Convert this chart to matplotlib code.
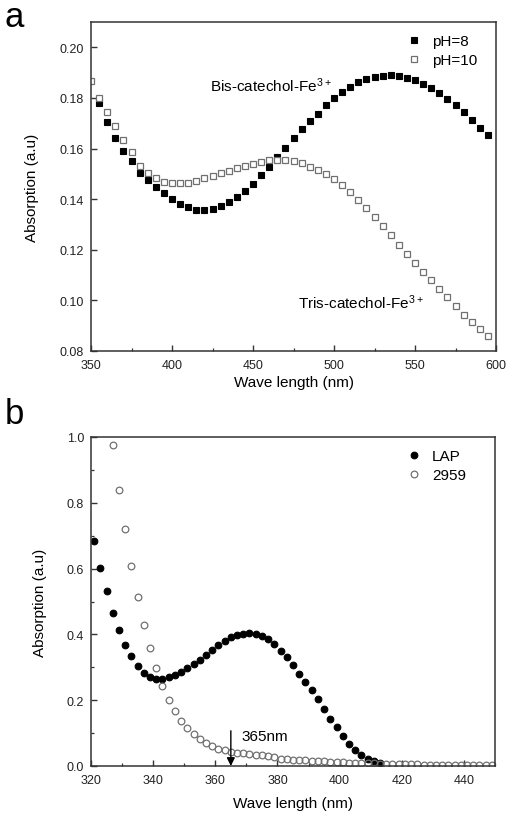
import matplotlib
matplotlib.use("Agg")
import matplotlib.pyplot as plt
from matplotlib.ticker import MultipleLocator

plt.rcParams['font.family'] = ['Liberation Sans', 'DejaVu Sans']
plt.rcParams['mathtext.fontset'] = 'custom'
plt.rcParams['mathtext.rm'] = 'Liberation Sans'
plt.rcParams['mathtext.default'] = 'regular'

# ---------- Panel a data ----------
wl_ph8 = [355, 360, 365, 370, 375, 380, 385, 390, 395, 400, 405, 410, 415, 420, 425,
          430, 435, 440, 445, 450, 455, 460, 465, 470, 475, 480, 485, 490, 495, 500,
          505, 510, 515, 520, 525, 530, 535, 540, 545, 550, 555, 560, 565, 570, 575,
          580, 585, 590, 595]
abs_ph8 = [0.1778, 0.1705, 0.1641, 0.1590, 0.1549, 0.1503, 0.1475, 0.1447, 0.1424, 0.1399,
           0.1382, 0.1368, 0.1358, 0.1357, 0.1362, 0.1371, 0.1387, 0.1409, 0.1434, 0.1461,
           0.1496, 0.1528, 0.1567, 0.1604, 0.1641, 0.1676, 0.1709, 0.1738, 0.1771, 0.1799,
           0.1825, 0.1843, 0.1863, 0.1874, 0.1883, 0.1887, 0.1891, 0.1887, 0.1878, 0.1869,
           0.1854, 0.1838, 0.1819, 0.1795, 0.1771, 0.1744, 0.1713, 0.1682, 0.1652]

wl_ph10 = [350, 355, 360, 365, 370, 375, 380, 385, 390, 395, 400, 405, 410, 415, 420,
           425, 430, 435, 440, 445, 450, 455, 460, 465, 470, 475, 480, 485, 490, 495,
           500, 505, 510, 515, 520, 525, 530, 535, 540, 545, 550, 555, 560, 565, 570,
           575, 580, 585, 590, 595]
abs_ph10 = [0.1865, 0.1801, 0.1745, 0.1688, 0.1634, 0.1587, 0.1531, 0.1503, 0.1482, 0.1467,
            0.1462, 0.1462, 0.1465, 0.1471, 0.1482, 0.1491, 0.1502, 0.1511, 0.1523, 0.1532,
            0.1540, 0.1548, 0.1554, 0.1555, 0.1554, 0.1549, 0.1541, 0.1529, 0.1516, 0.1499,
            0.1479, 0.1457, 0.1427, 0.1396, 0.1365, 0.1331, 0.1295, 0.1258, 0.1220, 0.1185,
            0.1147, 0.1114, 0.1081, 0.1045, 0.1012, 0.0977, 0.0944, 0.0914, 0.0888, 0.0861]

# ---------- Panel b data ----------
wl_lap = [321, 323, 325, 327, 329, 331, 333, 335, 337, 339, 341, 343, 345, 347, 349,
          351, 353, 355, 357, 359, 361, 363, 365, 367, 369, 371, 373, 375, 377, 379,
          381, 383, 385, 387, 389, 391, 393, 395, 397, 399, 401, 403, 405, 407, 409,
          411, 413]
abs_lap = [0.683, 0.603, 0.531, 0.466, 0.413, 0.369, 0.333, 0.305, 0.284, 0.272,
           0.265, 0.265, 0.269, 0.277, 0.287, 0.297, 0.310, 0.322, 0.337, 0.352,
           0.369, 0.381, 0.391, 0.398, 0.402, 0.403, 0.402, 0.396, 0.385, 0.372,
           0.351, 0.330, 0.307, 0.281, 0.256, 0.231, 0.203, 0.173, 0.144, 0.119,
           0.091, 0.068, 0.048, 0.033, 0.022, 0.015, 0.009]

wl_2959 = [327, 329, 331, 333, 335, 337, 339, 341, 343, 345, 347, 349, 351, 353, 355,
           357, 359, 361, 363, 365, 367, 369, 371, 373, 375, 377, 379, 381, 383, 385,
           387, 389, 391, 393, 395, 397, 399, 401, 403, 405, 407, 409, 411, 413, 415,
           417, 419, 421, 423, 425, 427, 429, 431, 433, 435, 437, 439, 441, 443, 445,
           447, 449]
abs_2959 = [0.977, 0.839, 0.720, 0.609, 0.514, 0.429, 0.358, 0.297, 0.244, 0.201,
            0.166, 0.138, 0.115, 0.097, 0.081, 0.069, 0.060, 0.053, 0.048, 0.044,
            0.041, 0.038, 0.036, 0.034, 0.032, 0.029, 0.026, 0.022, 0.020, 0.019,
            0.018, 0.017, 0.016, 0.015, 0.014, 0.013, 0.012, 0.011, 0.010, 0.010,
            0.009, 0.008, 0.008, 0.007, 0.007, 0.006, 0.006, 0.005, 0.005, 0.005,
            0.004, 0.004, 0.004, 0.004, 0.003, 0.003, 0.003, 0.003, 0.002, 0.002,
            0.002, 0.002]

labels_a = ["pH=8", "pH=10"]
labels_b = ["LAP", "2959"]

SP = '#333333'
GRAY = '#707070'

fig = plt.figure(figsize=(5.12, 8.2), dpi=100)
axa = fig.add_axes([91/512, 1-352/820, 405/512, 329/820])
axb = fig.add_axes([91/512, 1-767/820, 404/512, 329/820])

def style(ax):
    for s in ax.spines.values():
        s.set_color(SP)
        s.set_linewidth(1.1)
    ax.tick_params(which='both', direction='in', color=SP, top=False, right=False,
                   labelsize=9, labelcolor='#222222')
    ax.tick_params(which='major', length=4, width=1.0)
    ax.tick_params(which='minor', length=2.5, width=0.9)
    ax.tick_params(axis='x', pad=6)
    ax.tick_params(axis='y', pad=5)

# Panel a
axa.plot(wl_ph8, abs_ph8, ls='none', marker='s', ms=4.4, mfc='black', mec='black',
         mew=0.8, label=labels_a[0])
axa.plot(wl_ph10, abs_ph10, ls='none', marker='s', ms=4.4, mfc='white', mec=GRAY,
         mew=0.9, label=labels_a[1])
axa.set_xlim(350, 600)
axa.set_ylim(0.08, 0.21)
axa.xaxis.set_major_locator(MultipleLocator(50))
axa.xaxis.set_minor_locator(MultipleLocator(25))
axa.yaxis.set_major_locator(MultipleLocator(0.02))
axa.yaxis.set_major_formatter(matplotlib.ticker.FormatStrFormatter('%.2f'))
style(axa)
axa.set_xlabel("Wave length (nm)", fontsize=11, labelpad=3)
axa.set_ylabel("Absorption (a.u)", fontsize=11, labelpad=15)
axa.text(423.5, 0.1854, "Bis-catechol-Fe$^{3+}$", fontsize=11, va='center', ha='left')
axa.text(478, 0.0993, "Tris-catechol-Fe$^{3+}$", fontsize=11, va='center', ha='left')
axa.legend(loc='upper right', frameon=False, fontsize=11, handletextpad=0.6,
           labelspacing=0.3, borderaxespad=0.3, bbox_to_anchor=(0.98, 0.995),
           handlelength=1.2)

# Panel b
axb.plot(wl_lap, abs_lap, ls='none', marker='o', ms=4.8, mfc='black', mec='black',
         mew=0.8, label=labels_b[0])
axb.plot(wl_2959, abs_2959, ls='none', marker='o', ms=4.8, mfc='none', mec=GRAY,
         mew=0.9, label=labels_b[1])
axb.set_xlim(320, 450)
axb.set_ylim(0.0, 1.0)
axb.xaxis.set_major_locator(MultipleLocator(20))
axb.xaxis.set_minor_locator(MultipleLocator(10))
axb.yaxis.set_major_locator(MultipleLocator(0.2))
axb.yaxis.set_minor_locator(MultipleLocator(0.1))
axb.yaxis.set_major_formatter(matplotlib.ticker.FormatStrFormatter('%.1f'))
style(axb)
axb.set_xlabel("Wave length (nm)", fontsize=11, labelpad=7)
axb.set_ylabel("Absorption (a.u)", fontsize=11, labelpad=14)
axb.annotate("", xy=(365, 0.0), xytext=(365, 0.107),
             arrowprops=dict(arrowstyle='-|>', color='black', lw=1.0,
                             mutation_scale=12, shrinkA=0, shrinkB=0))
axb.text(368.5, 0.091, "365nm", fontsize=11, va='center', ha='left')
axb.legend(loc='upper right', frameon=False, fontsize=11, handletextpad=0.6,
           labelspacing=0.3, borderaxespad=0.3, bbox_to_anchor=(0.955, 0.995),
           handlelength=1.2)

fig.text(5/512, 1-27/820, "a", fontsize=25, va='baseline', ha='left')
fig.text(5/512, 1-424/820, "b", fontsize=25, va='baseline', ha='left')

fig.savefig("out.png", dpi=100)
